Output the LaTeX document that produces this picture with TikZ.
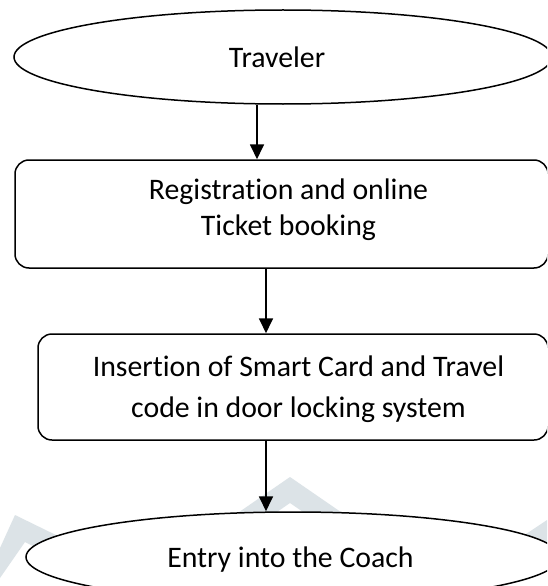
\documentclass[tikz,border=0pt]{standalone}
\usepackage{fontspec}
\setmainfont[Ligatures={NoCommon}]{Carlito}
\usetikzlibrary{arrows.meta,shapes.geometric}
\definecolor{markgray}{RGB}{220,227,231}
\begin{document}
\begin{tikzpicture}[x=1pt,y=-1pt,
  oval/.style={draw, ellipse, line width=1.5pt, fill=white, inner sep=0pt},
  stepbox/.style={draw, rectangle, rounded corners=14pt, line width=1.5pt, fill=white, inner sep=0pt},
  lbl/.style={anchor=base, inner sep=0pt, font=\fontsize{29.8}{36}\selectfont},
  arr/.style={-{Triangle[length=15pt,width=14pt]}, line width=1.8pt}]
  \useasboundingbox (0,0) rectangle (547,586);
  \clip (0,0) rectangle (547,586);
  \fill[white] (0,0) rectangle (547,586);
  % faint background mark
  \fill[markgray] (0,548) -- (15,515) -- (60,537) -- (60,560) -- (25,542) -- (0,578) -- cycle;
  \fill[markgray] (200,539) -- (290,477) -- (380,539) -- (380,565) -- (290,503) -- (200,565) -- cycle;
  \fill[markgray] (505,548) -- (547,520) -- (547,550) -- (525,565) -- cycle;
  % flow steps
  \node[oval, minimum width=538pt, minimum height=94pt] (trav) at (283,57) {};
  \node[stepbox, minimum width=533pt, minimum height=108pt] (reg) at (281.5,214) {};
  \node[stepbox, minimum width=510pt, minimum height=106pt] (ins) at (293,387) {};
  \node[oval, minimum width=534pt, minimum height=90pt] (entry) at (293,557) {};
  % step texts
  \node[lbl] (travtxt) at (277,67) {Traveler};
  \node[lbl] (regtxt1) at (288.5,199.5) {Registration and online};
  \node[lbl] (regtxt2) at (288.5,235.5) {Ticket booking};
  \node[lbl] (instxt1) at (298.5,376.5) {Insertion of Smart Card and Travel};
  \node[lbl] (instxt2) at (298.5,417.5) {code in door locking system};
  \node[lbl] (entrytxt) at (290.5,567) {Entry into the Coach};
  % connectors
  \draw[arr] ([xshift=-26pt]trav.south) -- ([xshift=-26pt]trav.south |- reg.north);
  \draw[arr] ([xshift=-15.5pt]reg.south) -- ([xshift=-15.5pt]reg.south |- ins.north);
  \draw[arr] ([xshift=-27pt]ins.south) -- ([xshift=-27pt]ins.south |- entry.north);
\end{tikzpicture}
\end{document}
